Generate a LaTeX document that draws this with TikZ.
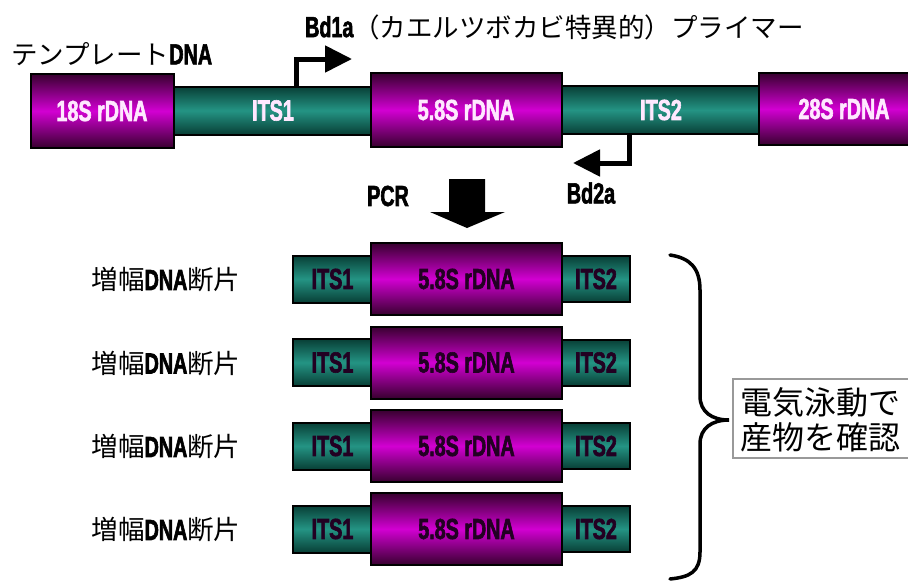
\documentclass[tikz,border=0pt]{standalone}
\usepackage{fontspec}
\usetikzlibrary{arrows.meta}
\newfontfamily\cjk{Noto Sans CJK JP}
\newfontfamily\cond[FakeStretch=0.68,FakeBold=2]{Liberation Sans}
\definecolor{pdark}{HTML}{38002F}
\definecolor{pmid}{HTML}{D200D2}
\definecolor{tdark}{HTML}{083F36}
\definecolor{tmid}{HTML}{249484}
\definecolor{lighttxt}{HTML}{FFE8FF}
\definecolor{darktxt}{HTML}{220022}
\newcommand{\lbl}[1]{{\cond\bfseries\fontsize{29}{32}\selectfont #1}}
\begin{document}
\begin{tikzpicture}[x=1pt,y=-1pt,
  purp/.style={draw=black,line width=2,top color=pdark,bottom color=pdark,middle color=pmid,inner sep=0},
  teal/.style={draw=black,line width=2,top color=tdark,bottom color=tdark,middle color=tmid,inner sep=0},
  jp/.style={font=\cjk\fontsize{26.5}{29}\selectfont,inner sep=0},
  prim/.style={line width=5,-{Triangle[length=27pt,width=26pt]}},
  bracestyle/.style={line width=3.5,line cap=round}
]
\clip (0,0) rectangle (908,581);
\fill[white] (0,0) rectangle (908,581);

% ---- template row ----
\node[teal,minimum width=198,minimum height=48] (its1) at (273,110.5) {\textcolor{lighttxt}{\lbl{ITS1}}};
\node[teal,minimum width=198,minimum height=48] (its2) at (661,110) {\textcolor{lighttxt}{\lbl{ITS2}}};
\node[purp,minimum width=143,minimum height=74] (s18) at (102,111) {\textcolor{lighttxt}{\lbl{18S rDNA}}};
\node[purp,minimum width=191,minimum height=74] (s58) at (466,110) {\textcolor{lighttxt}{\lbl{5.8S rDNA}}};
\node[purp,minimum width=170,minimum height=72] (s28) at (844,109) {\textcolor{lighttxt}{\lbl{28S rDNA}}};

% labels
\node[jp,anchor=west] (tmpl) at (11,54) {テンプレート\lbl{DNA}};
\node[jp,anchor=west] (bd1lab) at (305,27) {\lbl{Bd1a}（カエルツボカビ特異的）プライマー};
\node[inner sep=0] (bd2lab) at (591,193) {\lbl{Bd2a}};
\node[inner sep=0] (pcr) at (388,196) {\lbl{PCR}};

% primers
\coordinate (b1s) at (296,86);
\coordinate (b1c) at (296,59);
\coordinate (b1e) at (352,59);
\draw[prim] (b1s) -- (b1c) -- (b1e);
\coordinate (b2s) at (629,134);
\coordinate (b2c) at (629,163);
\coordinate (b2e) at (573,163);
\draw[prim] (b2s) -- (b2c) -- (b2e);

% PCR block arrow
\coordinate (pa) at (467,228);
\fill[black] (449,179) -- (485,179) -- (485,212) -- (505,212) -- (pa) -- (430,212) -- (449,212) -- cycle;

% ---- amplified fragments ----
\foreach \i/\y in {1/279,2/362.5,3/446,4/529}{
  \node[teal,minimum width=79,minimum height=47] (a\i) at (332.5,\y) {\textcolor{darktxt}{\lbl{ITS1}}};
  \node[teal,minimum width=68,minimum height=46] (c\i) at (596,\y) {\textcolor{darktxt}{\lbl{ITS2}}};
  \node[purp,minimum width=191,minimum height=72] (m\i) at (466.5,\y) {\textcolor{darktxt}{\lbl{5.8S rDNA}}};
  \node[jp] (f\i) at (166,\y+1) {増幅\lbl{DNA}断片};
}

% brace
\coordinate (brt) at (670,255);
\coordinate (brm) at (729,420);
\coordinate (brb) at (670,579);
\draw[bracestyle] (brt) .. controls (690,258) and (700,268) .. (700,290)
  -- (700,396) .. controls (700,412) and (712,420) .. (brm)
  .. controls (712,420) and (700,428) .. (700,444)
  -- (700,552) .. controls (700,572) and (690,577) .. (brb);

% result box
\node[draw=black!40,line width=1.5,minimum width=190,minimum height=79,anchor=north west,inner sep=0] (res) at (732,378) {};
\node[font=\cjk\fontsize{32}{35}\selectfont,anchor=west,inner sep=0] (r1) at (740,402) {電気泳動で};
\node[font=\cjk\fontsize{32}{35}\selectfont,anchor=west,inner sep=0] (r2) at (740,437) {産物を確認};
\end{tikzpicture}
\end{document}
